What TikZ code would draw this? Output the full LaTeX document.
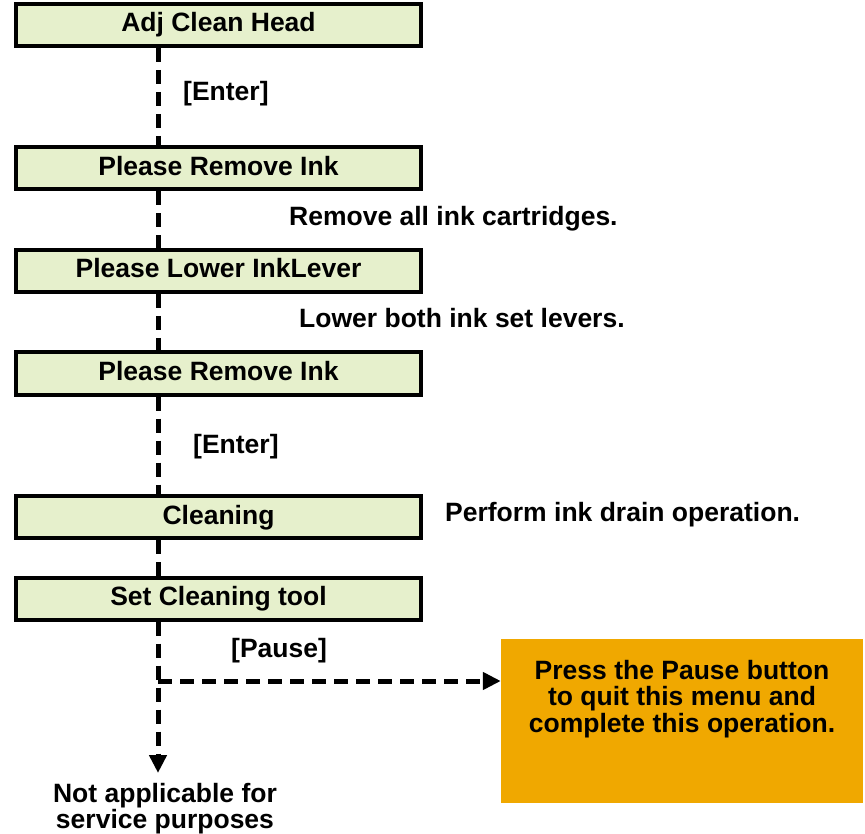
\documentclass[tikz,border=0pt]{standalone}
\usepackage{fontspec}
\setmainfont{Liberation Sans}
\usetikzlibrary{arrows.meta,positioning}
\definecolor{MenuGreen}{HTML}{E6F0CC}
\definecolor{NoteOrange}{HTML}{F0A800}

\tikzset{
  txt/.style={font=\fontsize{26.5}{26.5}\selectfont\bfseries,inner sep=0pt},
  menubox/.style={txt,draw=black,line width=4pt,fill=MenuGreen,
    minimum width=405pt,minimum height=42pt,text height=19pt,text depth=5pt},
  flow/.style={line width=5pt,dash pattern=on 14pt off 8pt},
  tip/.style={-{Triangle[length=18pt,width=17pt]}},
}

\begin{document}
\begin{tikzpicture}[x=1pt,y=-1pt]
\useasboundingbox (0,0) rectangle (865,834);
\coordinate (spine) at (158,0);
% menu boxes
\node[menubox] (adj)    at (218.5,25)  {Adj Clean Head};
\node[menubox] (rem1)   at (218.5,168.5) {Please Remove Ink};
\node[menubox] (lower)  at (218.5,271) {Please Lower InkLever};
\node[menubox] (rem2)   at (218.5,373.5) {Please Remove Ink};
\node[menubox] (clean)  at (218.5,517) {Cleaning};
\node[menubox] (settool) at (218.5,598.5) {Set Cleaning tool};
% side notes
\node[txt,anchor=base west] (enter1) at (183,101) {[Enter]};
\node[txt,anchor=base west] (cart)   at (289,226) {Remove all ink cartridges.};
\node[txt,anchor=base west] (lever)  at (299,328) {Lower both ink set levers.};
\node[txt,anchor=base west] (enter2) at (193,453) {[Enter]};
\node[txt,anchor=base west] (drain)  at (445,521) {Perform ink drain operation.};
\node[txt,anchor=base west] (pause)  at (231,657) {[Pause]};
% pause note
\node[fill=NoteOrange,minimum width=362pt,minimum height=164pt,inner sep=0pt] (note) at (682,721) {};
\node[txt,align=center,anchor=north,below=21pt of note.north] (notetxt) {Press the Pause button\\to quit this menu and\\complete this operation.};
\node[txt,align=center,anchor=north] (na) at (165,783) {Not applicable for\\service purposes};
\coordinate (branch) at (158,681);
\coordinate (end) at (158,773);
% connectors
\draw[flow] (adj.south -| spine) -- (rem1.north -| spine);
\draw[flow] (rem1.south -| spine) -- (lower.north -| spine);
\draw[flow] (lower.south -| spine) -- (rem2.north -| spine);
\draw[flow] (rem2.south -| spine) -- (clean.north -| spine);
\draw[flow] (clean.south -| spine) -- (settool.north -| spine);
\draw[flow,tip] (settool.south -| spine) -- (end);
\draw[flow,tip] (branch) -- (note.west |- branch);
\end{tikzpicture}
\end{document}
